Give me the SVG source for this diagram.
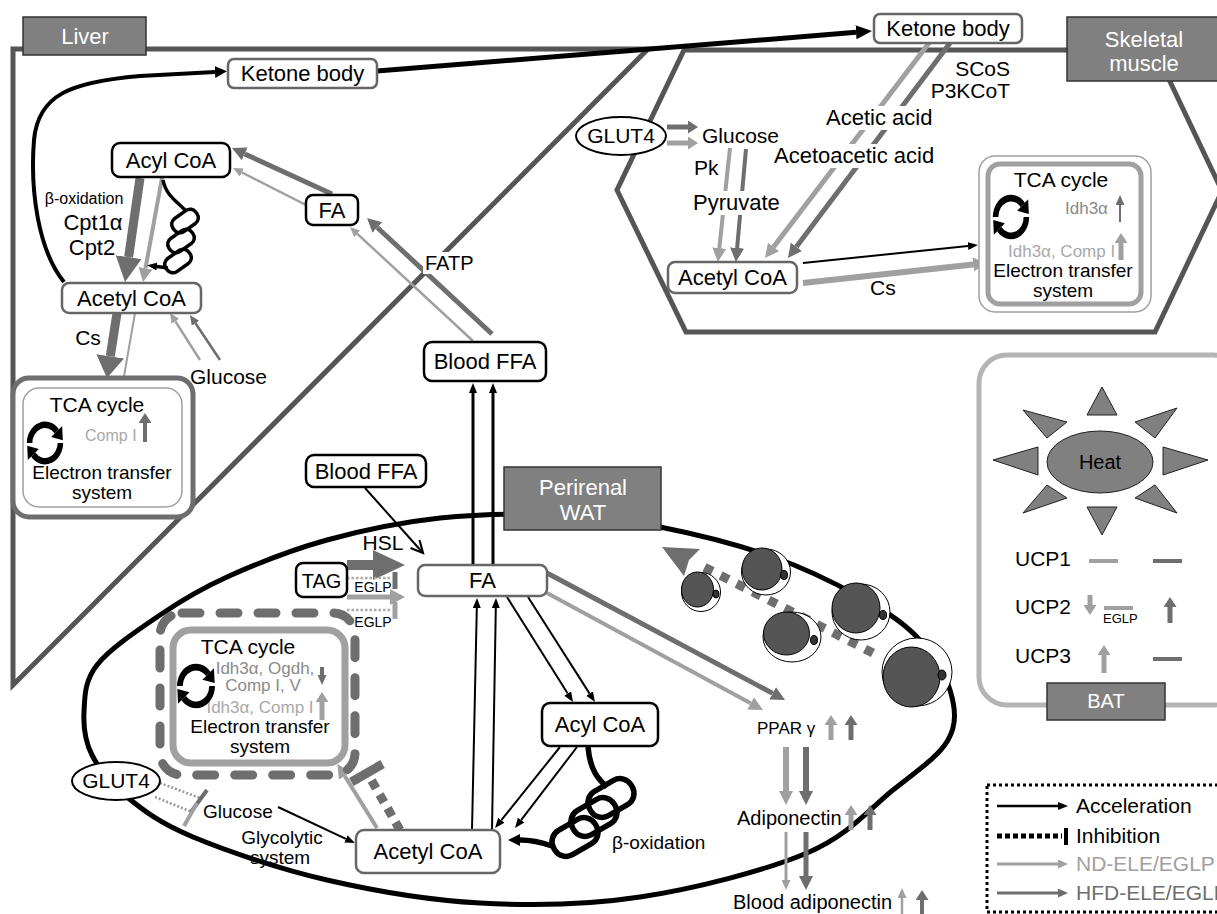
<svg xmlns="http://www.w3.org/2000/svg" width="1217" height="914" viewBox="0 0 1217 914">
<style>
.t{font-family:"Liberation Sans",Arial,sans-serif;fill:#000}
.m{text-anchor:middle}
.w{fill:#fff}
.gd{fill:#8a8a8a}
.gl{fill:#a8a8a8}
.box{fill:#fff;stroke:#000;stroke-width:2.5}
.boxg{fill:#fff;stroke:#666;stroke-width:2.5}
.lab{fill:#808080;stroke:#333;stroke-width:1.5}
.k{stroke:#000;fill:none}
.d{stroke:#6e6e6e;fill:none}
.l{stroke:#a0a0a0;fill:none}
.coil{fill:none;stroke:#000}
</style>
<defs>
<marker id="hk" viewBox="0 0 10 10" refX="0" refY="5" markerUnits="userSpaceOnUse" markerWidth="10" markerHeight="8" preserveAspectRatio="none" orient="auto"><path d="M0,0L10,5L0,10z" fill="#000"/></marker>
<marker id="hkM" viewBox="0 0 10 10" refX="0" refY="5" markerUnits="userSpaceOnUse" markerWidth="12" markerHeight="12" preserveAspectRatio="none" orient="auto"><path d="M0,0L10,5L0,10z" fill="#000"/></marker>
<marker id="hkB" viewBox="0 0 10 10" refX="0" refY="5" markerUnits="userSpaceOnUse" markerWidth="16" markerHeight="14" preserveAspectRatio="none" orient="auto"><path d="M0,0L10,5L0,10z" fill="#000"/></marker>
<marker id="hko" viewBox="0 0 10 10" refX="10" refY="5" markerUnits="userSpaceOnUse" markerWidth="12" markerHeight="12" preserveAspectRatio="none" orient="auto" overflow="visible"><path d="M0,0L10,5L0,10" fill="none" stroke="#000" stroke-width="1.8"/></marker>
<marker id="hd" viewBox="0 0 10 10" refX="0" refY="5" markerUnits="userSpaceOnUse" markerWidth="14" markerHeight="14" preserveAspectRatio="none" orient="auto"><path d="M0,0L10,5L0,10z" fill="#6e6e6e"/></marker>
<marker id="hl" viewBox="0 0 10 10" refX="0" refY="5" markerUnits="userSpaceOnUse" markerWidth="14" markerHeight="14" preserveAspectRatio="none" orient="auto"><path d="M0,0L10,5L0,10z" fill="#a0a0a0"/></marker>
<marker id="hds" viewBox="0 0 10 10" refX="0" refY="5" markerUnits="userSpaceOnUse" markerWidth="10" markerHeight="9" preserveAspectRatio="none" orient="auto"><path d="M0,0L10,5L0,10z" fill="#6e6e6e"/></marker>
<marker id="hls" viewBox="0 0 10 10" refX="0" refY="5" markerUnits="userSpaceOnUse" markerWidth="10" markerHeight="9" preserveAspectRatio="none" orient="auto"><path d="M0,0L10,5L0,10z" fill="#a0a0a0"/></marker>
<marker id="hdt" viewBox="0 0 10 10" refX="0" refY="5" markerUnits="userSpaceOnUse" markerWidth="10" markerHeight="13" preserveAspectRatio="none" orient="auto"><path d="M0,0L10,5L0,10z" fill="#6e6e6e"/></marker>
<marker id="hlt" viewBox="0 0 10 10" refX="0" refY="5" markerUnits="userSpaceOnUse" markerWidth="10" markerHeight="13" preserveAspectRatio="none" orient="auto"><path d="M0,0L10,5L0,10z" fill="#a0a0a0"/></marker>
<marker id="hdB" viewBox="0 0 10 10" refX="0" refY="5" markerUnits="userSpaceOnUse" markerWidth="25" markerHeight="26" preserveAspectRatio="none" orient="auto"><path d="M0,0L10,5L0,10z" fill="#6e6e6e"/></marker>
<marker id="hdC" viewBox="0 0 10 10" refX="0" refY="5" markerUnits="userSpaceOnUse" markerWidth="22" markerHeight="28" preserveAspectRatio="none" orient="auto"><path d="M0,0L10,5L0,10z" fill="#6e6e6e"/></marker>
<g id="cyc">
<path d="M-14,0A14,14 0 0 1 10.7,-9" fill="none" stroke="#000" stroke-width="5"/>
<polygon points="15.6,-13.1 5.6,-4.7 16.2,-2.2" fill="#000"/>
<path d="M14,0A14,14 0 0 1 -10.7,9" fill="none" stroke="#000" stroke-width="5"/>
<polygon points="-15.6,13.1 -5.6,4.7 -16.2,2.2" fill="#000"/>
</g>
</defs>
<rect width="1217" height="914" fill="#fff"/>

<g id="organs">
<polygon points="13,49 648,49 13,685" fill="none" stroke="#555" stroke-width="5"/>
<polygon points="684,50 1155,50 1222,191 1155,332 686,332 617,190" fill="none" stroke="#555" stroke-width="5"/>
<path d="M84,712 C84.8,697 84.3,681.2 97,665 C109.7,648.8 138.3,629.7 160,615 C181.7,600.3 199.2,589.5 227,577 C254.8,564.5 291.5,549.8 327,540 C362.5,530.2 401.2,522.2 440,518 C478.8,513.8 523.3,513.5 560,515 C596.7,516.5 624.5,520 660,527 C695.5,534 739.7,545.3 773,557 C806.3,568.7 836,583.7 860,597 C884,610.3 902,621.5 917,637 C932,652.5 944.8,672.8 950,690 C955.2,707.2 957.5,723.3 948,740 C938.5,756.7 916.5,771.2 893,790 C869.5,808.8 849.2,835.2 807,853 C764.8,870.8 694.5,888.7 640,897 C585.5,905.3 532.2,905.8 480,903 C427.8,900.2 374.8,891 327,880 C279.2,869 226.3,850.8 193,837 C159.7,823.2 143.8,810.7 127,797 C110.2,783.3 99.2,769.2 92,755 C84.8,740.8 83.2,727 84,712 Z" fill="none" stroke="#000" stroke-width="5"/>
<rect x="979" y="355" width="262" height="350" rx="28" fill="none" stroke="#b4b4b4" stroke-width="5"/>
</g>

<g id="connectors">
<!-- liver -->
<path class="k" d="M64,282 C38,250 30,190 34,140 C38,95 70,82 140,76 L215,72" stroke-width="4" marker-end="url(#hkM)"/>
<path class="k" d="M377,71 L856,32.3" stroke-width="5" marker-end="url(#hkB)"/>
<path class="d" d="M332,194 L244.7,153.9" stroke-width="5" marker-end="url(#hd)"/>
<path class="l" d="M306,205 L241.9,172.5" stroke-width="2.5" marker-end="url(#hls)"/>
<path class="l" d="M473,341 L357.3,233.8" stroke-width="2.5" marker-end="url(#hls)"/>
<path class="d" d="M492,334 L377.3,227.5" stroke-width="5" marker-end="url(#hd)"/>
<path class="d" d="M140,178 L128.6,257.2" stroke-width="9" marker-end="url(#hdB)"/>
<path class="l" d="M162,178 L145.5,268.2" stroke-width="4" marker-end="url(#hl)"/>
<path class="d" d="M117,313 L110.3,356.3" stroke-width="9" marker-end="url(#hdC)"/>
<path class="l" d="M135,313 L123.5,379.1" stroke-width="2" marker-end="url(#hls)"/>
<path class="l" d="M200,360 L175.4,321.4" stroke-width="2.5" marker-end="url(#hls)"/>
<path class="d" d="M220,360 L195.5,323.3" stroke-width="2.5" marker-end="url(#hds)"/>
<g id="liver-coil" class="coil" stroke-width="3.5">
<path d="M163,180 C166,196 178,202 186,211"/>
<rect x="-14" y="-8" width="28" height="16" rx="7" transform="translate(185,221) rotate(-35)"/>
<rect x="-14" y="-8" width="28" height="16" rx="7" transform="translate(181,241) rotate(-35)"/>
<rect x="-14" y="-8" width="28" height="16" rx="7" transform="translate(178,261) rotate(-35)"/>
<path d="M168,268 L157,266.5" marker-end="url(#hk)"/>
</g>
<!-- muscle -->
<path class="d" d="M667,127 L688,127" stroke-width="5" marker-end="url(#hdt)"/>
<path class="l" d="M667,143 L688,143" stroke-width="5" marker-end="url(#hlt)"/>
<path class="l" d="M730,148 L719.3,248.1" stroke-width="4" marker-end="url(#hl)"/>
<path class="d" d="M746,149 L737.1,248" stroke-width="4" marker-end="url(#hd)"/>
<path class="l" d="M929,43 L773.5,246.9" stroke-width="5" marker-end="url(#hl)"/>
<path class="d" d="M950,43 L796.4,246.8" stroke-width="5" marker-end="url(#hd)"/>
<path class="k" d="M803,263 L968,246" stroke-width="2" marker-end="url(#hk)"/>
<path class="l" d="M803,283 L973.1,264.5" stroke-width="6" marker-end="url(#hl)"/>
<!-- WAT -->
<path class="k" d="M365,488 L423,553" stroke-width="2" marker-end="url(#hko)"/>
<path class="k" d="M473,565 L473,393" stroke-width="3" marker-end="url(#hk)"/>
<path class="k" d="M493,565 L493,393" stroke-width="3" marker-end="url(#hk)"/>
<path class="k" d="M472,830 L476.8,608" stroke-width="2" marker-end="url(#hk)"/>
<path class="k" d="M492,830 L495.8,608" stroke-width="2" marker-end="url(#hk)"/>
<path class="k" d="M507,597 L567.7,693.5" stroke-width="2" marker-end="url(#hk)"/>
<path class="k" d="M528,597 L589.6,693.6" stroke-width="2" marker-end="url(#hk)"/>
<path class="k" d="M560,747 L501.3,820.2" stroke-width="2" marker-end="url(#hk)"/>
<path class="k" d="M577,747 L521.1,820.1" stroke-width="2" marker-end="url(#hk)"/>
<path class="d" d="M547,573 L772.7,693.4" stroke-width="5" marker-end="url(#hd)"/>
<path class="l" d="M547,593 L750.7,703.3" stroke-width="4" marker-end="url(#hl)"/>
<path class="l" d="M786,747 L786,791" stroke-width="6" marker-end="url(#hl)"/>
<path class="d" d="M806,747 L806,791" stroke-width="6" marker-end="url(#hd)"/>
<path class="l" d="M786,832 L786,880" stroke-width="3" marker-end="url(#hls)"/>
<path class="d" d="M806,832 L806,876" stroke-width="5" marker-end="url(#hd)"/>
<path class="l" d="M831,740 L831,725" stroke-width="5" marker-end="url(#hlt)"/>
<path class="d" d="M851,740 L851,725" stroke-width="5" marker-end="url(#hdt)"/>
<path class="l" d="M851,830 L851,815" stroke-width="5" marker-end="url(#hlt)"/>
<path class="d" d="M870,830 L870,815" stroke-width="5" marker-end="url(#hdt)"/>
<path class="l" d="M902,914 L902,898" stroke-width="2.5" marker-end="url(#hls)"/>
<path class="d" d="M922,914 L922,900" stroke-width="4" marker-end="url(#hdt)"/>
<path class="d" d="M347,565 L374,565" stroke-width="10"/>
<polygon points="373,550 405,565 373,580" fill="#6e6e6e"/>
<path d="M347,578 L392,578" stroke="#aaa" stroke-width="2.5" stroke-dasharray="2.5 2"/>
<path class="d" d="M395,572 L395,589" stroke-width="5"/>
<path class="l" d="M347,597 L391,597" stroke-width="5"/>
<polygon points="390,589 405,597 390,605" fill="#a0a0a0"/>
<path d="M347,610 L392,610" stroke="#aaa" stroke-width="2.5" stroke-dasharray="2.5 2"/>
<path class="l" d="M395,602 L395,619" stroke-width="5"/>
<path class="k" d="M278,807 L345.9,838.8" stroke-width="2" marker-end="url(#hk)"/>
<path class="l" d="M377,828 L344.8,776" stroke-width="4" marker-end="url(#hl)"/>
<path class="d" d="M400,830 L369,776" stroke-width="9" stroke-dasharray="9 7"/>
<path class="d" d="M351.4,782 L382.6,764" stroke-width="9"/>
<path d="M160,783 L200,798 M155,797 L192,812" stroke="#999" stroke-width="2.5" stroke-dasharray="2 2" fill="none"/>
<path class="d" d="M207,790 L191,812" stroke-width="4"/>
<path class="l" d="M197,803 L184,826" stroke-width="4"/>
<path class="d" d="M873,653 L702,566" stroke-width="9" stroke-dasharray="9 9"/>
<polygon points="662,547 700,549 689,560 684,576" fill="#6e6e6e"/>
<g id="wat-coil" class="coil" stroke-width="5.5">
<path d="M588,747 C590,770 598,779 607,787"/>
<rect x="-24" y="-14" width="48" height="28" rx="13" transform="translate(611,798) rotate(-30)"/>
<rect x="-24" y="-14" width="48" height="28" rx="13" transform="translate(594,817) rotate(-30)"/>
<rect x="-24" y="-14" width="48" height="28" rx="13" transform="translate(575,837) rotate(-30)"/>
<path d="M552,846 Q535,840 520,840" marker-end="url(#hkM)"/>
</g>
<!-- BAT -->
<path class="l" d="M1089,561 L1118,561" stroke-width="4"/>
<path class="d" d="M1153,561 L1182,561" stroke-width="4"/>
<path class="l" d="M1090,595 L1090,605" stroke-width="5" marker-end="url(#hlt)"/>
<path class="l" d="M1104,608 L1133,608" stroke-width="4"/>
<path class="d" d="M1170,623 L1170,607" stroke-width="5" marker-end="url(#hdt)"/>
<path class="l" d="M1104,673 L1104,655" stroke-width="5" marker-end="url(#hlt)"/>
<path class="d" d="M1153,659 L1182,659" stroke-width="4"/>
</g>

<g id="connector-labels">
<text class="t m" x="84" y="204" font-size="16">β-oxidation</text>
<text class="t m" x="93" y="230" font-size="22">Cpt1α</text>
<text class="t m" x="92" y="255" font-size="22">Cpt2</text>
<text class="t m" x="88" y="345" font-size="21">Cs</text>
<text class="t" x="190" y="384" font-size="21">Glucose</text>
<rect x="423" y="252" width="55" height="22" fill="#fff"/>
<text class="t" x="425" y="270" font-size="20">FATP</text>
<text class="t" x="694" y="175" font-size="21">Pk</text>
<rect x="691" y="191" width="91" height="24" fill="#fff"/>
<text class="t" x="693" y="210" font-size="22">Pyruvate</text>
<text class="t" x="1010" y="76" font-size="21" text-anchor="end">SCoS</text>
<text class="t" x="1010" y="98" font-size="21" text-anchor="end">P3KCoT</text>
<rect x="824" y="106" width="111" height="24" fill="#fff"/>
<text class="t" x="826" y="125" font-size="22">Acetic acid</text>
<rect x="772" y="144" width="166" height="24" fill="#fff"/>
<text class="t" x="774" y="163" font-size="22">Acetoacetic acid</text>
<text class="t" x="870" y="295" font-size="21">Cs</text>
<text class="t m" x="383" y="550" font-size="21">HSL</text>
<text class="t m" x="373" y="592" font-size="14">EGLP</text>
<text class="t m" x="373" y="627" font-size="14">EGLP</text>
<text class="t" x="203" y="818" font-size="19">Glucose</text>
<text class="t m" x="282" y="844" font-size="19">Glycolytic</text>
<text class="t m" x="280" y="864" font-size="19">system</text>
<text class="t" x="612" y="849" font-size="19">β-oxidation</text>
<text class="t" x="757" y="734" font-size="17">PPAR γ</text>
<text class="t" x="737" y="825" font-size="20">Adiponectin</text>
<text class="t" x="733" y="909" font-size="20">Blood adiponectin</text>
</g>

<g id="liver-label"><rect class="lab" x="23" y="17" width="123" height="38"/><text class="t m w" x="85" y="44" font-size="22">Liver</text></g>
<g id="liver-ketone"><rect class="boxg" x="228" y="59" width="149" height="29" rx="6"/><text class="t m" x="302.5" y="81" font-size="22">Ketone body</text></g>
<g id="muscle-ketone"><rect class="boxg" x="874" y="14" width="148" height="29" rx="6"/><text class="t m" x="948" y="36" font-size="22">Ketone body</text></g>
<g id="liver-acyl"><rect class="box" x="112" y="143" width="118" height="34" rx="8"/><text class="t m" x="171" y="168" font-size="22">Acyl CoA</text></g>
<g id="liver-fa"><rect class="box" x="306" y="195" width="52" height="30" rx="7"/><text class="t m" x="332" y="218" font-size="22">FA</text></g>
<g id="liver-acetyl"><rect class="boxg" x="62" y="283" width="139" height="30" rx="7"/><text class="t m" x="131.5" y="306" font-size="22">Acetyl CoA</text></g>
<g id="liver-tca">
<rect x="13" y="378" width="180" height="139" rx="16" fill="#fff" stroke="#6e6e6e" stroke-width="5"/>
<rect x="23" y="388" width="159" height="119" rx="16" fill="none" stroke="#a0a0a0" stroke-width="1.5"/>
<text class="t m" x="97" y="412" font-size="21">TCA cycle</text>
<text class="t gl" x="85" y="441" font-size="16">Comp I</text>
<path class="d" d="M145,442 L145,423" stroke-width="4" marker-end="url(#hdt)"/>
<use href="#cyc" transform="translate(45,443) scale(1.1,1.3)"/>
<text class="t m" x="102" y="479" font-size="19">Electron transfer</text>
<text class="t m" x="102" y="499" font-size="19">system</text>
</g>
<g id="blood-ffa-1"><rect class="box" x="424" y="342" width="122" height="39" rx="8"/><text class="t m" x="485" y="369" font-size="22">Blood FFA</text></g>
<g id="blood-ffa-2"><rect class="box" x="306" y="455" width="120" height="32" rx="8"/><text class="t m" x="366" y="479" font-size="22">Blood FFA</text></g>

<g id="muscle-label"><rect class="lab" x="1067" y="17" width="170" height="64"/><text class="t m w" x="1144" y="47" font-size="22">Skeletal</text><text class="t m w" x="1144" y="71" font-size="22">muscle</text></g>
<g id="muscle-glut4"><ellipse cx="621" cy="136" rx="45" ry="19" fill="#fff" stroke="#000" stroke-width="2"/><text class="t m" x="621" y="143" font-size="21">GLUT4</text></g>
<g id="muscle-glucose"><text class="t" x="702" y="143" font-size="21">Glucose</text></g>
<g id="muscle-acetyl"><rect class="boxg" x="668" y="262" width="129" height="31" rx="7"/><text class="t m" x="732.5" y="285" font-size="22">Acetyl CoA</text></g>
<g id="muscle-tca">
<rect x="979" y="156" width="172" height="156" rx="16" fill="#fff" stroke="#a0a0a0" stroke-width="1.5"/>
<rect x="988" y="164" width="153" height="140" rx="12" fill="none" stroke="#a0a0a0" stroke-width="5"/>
<text class="t m" x="1061" y="187" font-size="21">TCA cycle</text>
<text class="t gd" x="1065" y="214" font-size="17">Idh3α</text>
<path class="d" d="M1120,222 L1120,205" stroke-width="2" marker-end="url(#hds)"/>
<use href="#cyc" transform="translate(1011,217) scale(1.1,1.35)"/>
<text class="t gl" x="1008" y="257" font-size="17">Idh3α, Comp I</text>
<path class="l" d="M1121,260 L1121,243" stroke-width="5" marker-end="url(#hlt)"/>
<text class="t m" x="1063" y="277" font-size="19">Electron transfer</text>
<text class="t m" x="1063" y="297" font-size="19">system</text>
</g>

<g id="wat-label"><rect class="lab" x="504" y="467" width="157" height="63"/><text class="t m w" x="583" y="495" font-size="22">Perirenal</text><text class="t m w" x="583" y="520" font-size="22">WAT</text></g>
<g id="wat-tag"><rect class="box" x="296" y="563" width="51" height="34" rx="7"/><text class="t m" x="321.5" y="588" font-size="20">TAG</text></g>
<g id="wat-fa"><rect class="boxg" x="418" y="565" width="129" height="31" rx="7"/><text class="t m" x="482.5" y="588" font-size="22">FA</text></g>
<g id="wat-acyl"><rect class="box" x="542" y="703" width="116" height="43" rx="8"/><text class="t m" x="600" y="732" font-size="22">Acyl CoA</text></g>
<g id="wat-acetyl"><rect class="boxg" x="356" y="830" width="144" height="43" rx="8"/><text class="t m" x="428" y="859" font-size="22">Acetyl CoA</text></g>
<g id="wat-glut4"><ellipse cx="116" cy="781" rx="44" ry="19" fill="#fff" stroke="#000" stroke-width="2"/><text class="t m" x="116" y="788" font-size="21">GLUT4</text></g>
<g id="wat-tca">
<rect x="160" y="613" width="195" height="162" rx="22" fill="none" stroke="#6e6e6e" stroke-width="9" stroke-dasharray="18 20" stroke-linecap="round"/>
<rect x="173" y="630" width="172" height="133" rx="18" fill="#fff" stroke="#a0a0a0" stroke-width="7"/>
<text class="t m" x="248" y="654" font-size="21">TCA cycle</text>
<text class="t m gd" x="265" y="674" font-size="17">Idh3α, Ogdh,</text>
<text class="t m gd" x="263" y="691" font-size="17">Comp I, V</text>
<path class="d" d="M322,667 L322,675" stroke-width="4" marker-end="url(#hds)"/>
<text class="t m gl" x="260" y="713" font-size="17">Idh3α, Comp I</text>
<path class="l" d="M322,720 L322,702" stroke-width="5" marker-end="url(#hlt)"/>
<use href="#cyc" transform="translate(196,686) scale(1.15,1.35)"/>
<text class="t m" x="260" y="733" font-size="19">Electron transfer</text>
<text class="t m" x="260" y="753" font-size="19">system</text>
</g>
<g id="adipocytes" stroke="#000" stroke-width="1">
<circle cx="701" cy="592" r="19.5" fill="#fff"/><ellipse cx="697.5" cy="589.5" rx="16" ry="17.5" fill="#555"/><ellipse cx="716" cy="594" rx="3" ry="4" fill="#333"/>
<ellipse cx="766" cy="572" rx="24.5" ry="23" fill="#fff"/><ellipse cx="762" cy="569" rx="20" ry="21" fill="#555"/><ellipse cx="784" cy="575" rx="3.5" ry="4.5" fill="#333"/>
<ellipse cx="792" cy="637" rx="29" ry="25" fill="#fff"/><ellipse cx="786.5" cy="633.5" rx="23" ry="21.5" fill="#555"/><ellipse cx="814" cy="640" rx="3.5" ry="4.5" fill="#333"/>
<ellipse cx="861" cy="612" rx="29" ry="28" fill="#fff"/><ellipse cx="856" cy="608" rx="24" ry="25" fill="#555"/><ellipse cx="883" cy="615" rx="3.5" ry="4.5" fill="#333"/>
<ellipse cx="917" cy="672" rx="35" ry="34" fill="#fff"/><ellipse cx="911.5" cy="677" rx="28.5" ry="30" fill="#555"/><ellipse cx="942" cy="675" rx="4" ry="5" fill="#333"/>
</g>

<g id="bat-heat" fill="#808080" stroke="#222" stroke-width="1">
<polygon points="1087,415 1117,415 1102,387"/>
<polygon points="1087,507 1117,507 1102,535"/>
<polygon points="1038,447 1038,475 993,460"/>
<polygon points="1163,447 1163,475 1208,460"/>
<polygon points="1023,410 1067,422 1047,438"/>
<polygon points="1177,408 1135,422 1155,438"/>
<polygon points="1023,513 1047,485 1067,498"/>
<polygon points="1177,513 1155,485 1135,498"/>
<ellipse cx="1100" cy="462" rx="53" ry="31"/>
<text class="t m" x="1100" y="469" font-size="20" stroke="none">Heat</text>
</g>
<g id="bat-ucp">
<text class="t" x="1015" y="566" font-size="21">UCP1</text>
<text class="t" x="1015" y="614" font-size="21">UCP2</text>
<text class="t" x="1015" y="663" font-size="21">UCP3</text>
<text class="t" x="1103" y="623" font-size="13">EGLP</text>
</g>
<g id="bat-label"><rect class="lab" x="1047" y="683" width="118" height="37"/><text class="t m w" x="1106" y="708" font-size="20">BAT</text></g>

<g id="legend">
<rect x="987" y="785" width="250" height="127" fill="none" stroke="#000" stroke-width="3" stroke-dasharray="3 3"/>
<path class="k" d="M997,806 L1058,806" stroke-width="2.5" marker-end="url(#hk)"/>
<path class="k" d="M997,836 L1062,836" stroke-width="5" stroke-dasharray="5 3"/>
<path class="k" d="M1066,828 L1066,845" stroke-width="4"/>
<path class="l" d="M997,864 L1058,864" stroke-width="3" marker-end="url(#hls)"/>
<path class="d" d="M997,893 L1058,893" stroke-width="3" marker-end="url(#hds)"/>
<text class="t" x="1076" y="813" font-size="21">Acceleration</text>
<text class="t" x="1076" y="843" font-size="21">Inhibition</text>
<text class="t" x="1076" y="871" font-size="21" style="fill:#a0a0a0">ND-ELE/EGLP</text>
<text class="t" x="1076" y="900" font-size="21" style="fill:#6e6e6e">HFD-ELE/EGLP</text>
</g>
</svg>
